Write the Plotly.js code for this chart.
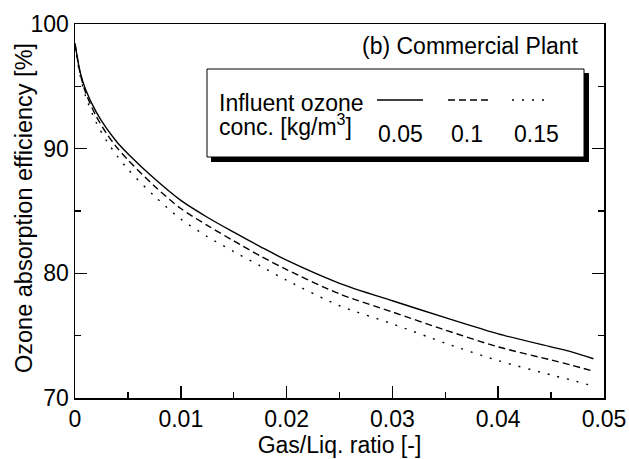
<!DOCTYPE html>
<html><head><meta charset="utf-8">
<script src="https://cdn.plot.ly/plotly-3.0.1.min.js"></script>
<style>html,body{margin:0;padding:0;background:#fff}#chart{width:629px;height:459px}</style>
</head><body><div id="chart"></div>
<script>
// Gas/Liquid ratio [-]
const gasLiqRatio = [0, 0.0005, 0.001, 0.002, 0.003, 0.004, 0.005, 0.0075, 0.01, 0.0125, 0.015, 0.0175, 0.02, 0.025, 0.03, 0.035, 0.04, 0.045, 0.047, 0.049];
// Ozone absorption efficiency [%] per influent ozone concentration
const eff005 = [98.45, 96.1, 94.75, 92.95, 91.6, 90.5, 89.6, 87.6, 85.85, 84.5, 83.3, 82.15, 81.05, 79.2, 77.8, 76.45, 75.15, 74.1, 73.68, 73.15];
const eff010 = [98.4, 96.0, 94.5, 92.6, 91.2, 90.05, 89.1, 87.0, 85.2, 83.85, 82.6, 81.4, 80.3, 78.35, 76.9, 75.45, 74.1, 73.05, 72.62, 72.15];
const eff015 = [98.3, 95.8, 94.2, 92.1, 90.6, 89.4, 88.35, 86.2, 84.35, 82.95, 81.75, 80.6, 79.45, 77.4, 75.95, 74.4, 73.0, 71.85, 71.42, 70.95];
const concLabels = ['0.05', '0.1', '0.15'];
const xTickVals = [0, 0.01, 0.02, 0.03, 0.04, 0.05];
const xTickText = ['0', '0.01', '0.02', '0.03', '0.04', '0.05'];
const yTickVals = [70, 80, 90, 100];

const FONT = 'Liberation Sans, Arial, Helvetica, sans-serif';
const W = 629, H = 459, ML = 75, MR = 25, MT = 24, MB = 61;
const PW = W - ML - MR, PH = H - MT - MB;
const px = v => (v - ML) / PW;
const py = v => (H - MB - v) / PH;

const styles = [
  {dash: 'solid'},
  {dash: '7px,4px'},
  {dash: '2px,8px'}
];
const series = [eff005, eff010, eff015];
const traces = series.map((s, i) => ({
  x: gasLiqRatio, y: s, type: 'scatter', mode: 'lines',
  line: {color: '#000', width: 1.4, dash: styles[i].dash, shape: 'spline', smoothing: 0.8},
  name: concLabels[i], showlegend: false, hoverinfo: 'skip'
}));

const sampleX = [[377, 423], [448, 490], [512, 550]];
const labelX = [400, 467, 536];
const shapes = [
  {type: 'rect', xref: 'paper', yref: 'paper', x0: px(211), x1: px(589), y0: py(162), y1: py(73), fillcolor: '#000', line: {width: 0}},
  {type: 'rect', xref: 'paper', yref: 'paper', x0: px(207), x1: px(584), y0: py(157), y1: py(69), fillcolor: '#fff', line: {color: '#000', width: 1}}
];
styles.forEach((st, i) => shapes.push({
  type: 'line', xref: 'paper', yref: 'paper', x0: px(sampleX[i][0]), x1: px(sampleX[i][1]), y0: py(100), y1: py(100),
  line: {color: '#000', width: 1.4, dash: st.dash}
}));

const annotations = [
  {text: '(b) Commercial Plant', xref: 'paper', yref: 'paper', x: px(581), y: py(46), xanchor: 'right', yanchor: 'middle', showarrow: false, font: {size: 23}},
  {text: 'Influent ozone', xref: 'paper', yref: 'paper', x: px(217), y: py(103), xanchor: 'left', yanchor: 'middle', showarrow: false, font: {size: 23}},
  {text: 'conc. [kg/m<sup>3</sup>]', xref: 'paper', yref: 'paper', x: px(217), y: py(125), xanchor: 'left', yanchor: 'middle', showarrow: false, font: {size: 23}},
  {text: 'Ozone absorption efficiency [%]', xref: 'paper', yref: 'paper', x: px(24), y: py(208), xanchor: 'center', yanchor: 'middle', textangle: -90, showarrow: false, font: {size: 23.5}}
];
concLabels.forEach((t, i) => annotations.push({
  text: t, xref: 'paper', yref: 'paper', x: px(labelX[i]), y: py(134), xanchor: 'center', yanchor: 'middle', showarrow: false, font: {size: 23}
}));

const layout = {
  width: W, height: H,
  margin: {l: ML, r: MR, t: MT, b: MB},
  paper_bgcolor: '#fff', plot_bgcolor: '#fff',
  font: {family: FONT, size: 23, color: '#000'},
  showlegend: false,
  xaxis: {
    range: [0, 0.05], tickvals: xTickVals, ticktext: xTickText,
    ticks: 'inside', ticklen: 12, tickwidth: 1.5, tickcolor: '#000',
    minor: {dtick: 0.005, ticks: 'inside', ticklen: 6, tickwidth: 1.5, tickcolor: '#000', showgrid: false},
    showline: true, linecolor: '#000', linewidth: 1.5, mirror: true,
    showgrid: false, zeroline: false,
    tickfont: {size: 23},
    title: {text: 'Gas/Liq. ratio [-]', font: {size: 23}, standoff: 6}
  },
  yaxis: {
    range: [70, 100], tickvals: yTickVals,
    ticks: 'inside', ticklen: 12, tickwidth: 1.5, tickcolor: '#000',
    minor: {dtick: 5, ticks: 'inside', ticklen: 6, tickwidth: 1.5, tickcolor: '#000', showgrid: false},
    showline: true, linecolor: '#000', linewidth: 1.5, mirror: 'ticks',
    showgrid: false, zeroline: false,
    tickfont: {size: 23}
  },
  shapes: shapes,
  annotations: annotations
};

Plotly.newPlot('chart', traces, layout, {staticPlot: true, displayModeBar: false});
</script>
</body></html>
